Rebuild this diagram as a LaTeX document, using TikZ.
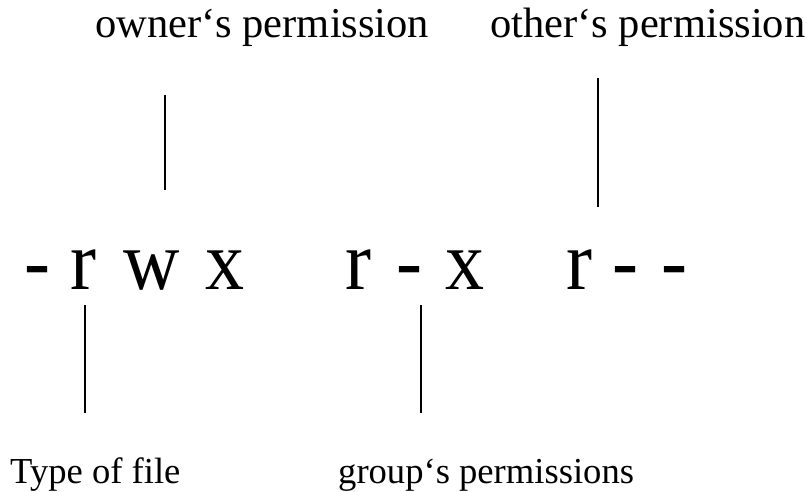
\documentclass[tikz,border=0pt]{standalone}
\usepackage{fontspec}
\setmainfont{Liberation Serif}
\newfontfamily\permfont{Liberation Serif}
\tikzset{
  toplbl/.style={anchor=base west, inner sep=0pt, font=\fontsize{42.5}{50}\selectfont},
  botlbl/.style={anchor=base west, inner sep=0pt, font=\fontsize{36.6}{44}\selectfont},
  perm/.style={anchor=base, inner sep=0pt, yscale=1.08, transform shape, font=\permfont\fontsize{78}{90}\selectfont},
  tick/.style={line width=1.6pt, black}
}
\begin{document}
\begin{tikzpicture}[x=1pt,y=-1pt]
\useasboundingbox (0,0) rectangle (807,492);
% top labels
\node[toplbl] (own) at (95,38) {owner‘s permission};
\node[toplbl] (oth) at (490,38) {other‘s permission};
% bottom labels
\node[botlbl] (typ) at (10,483) {Type of file};
\node[botlbl] (grp) at (338,483) {group‘s permissions};
% permission string
\node[perm] (c0) at (37,290) {-};
\node[perm] (c1) at (83,290) {r};
\node[perm] (c2) at (152,290) {w};
\node[perm] (c3) at (225,290) {x};
\node[perm] (c4) at (358,290) {r};
\node[perm] (c5) at (409,290) {-};
\node[perm] (c6) at (465,290) {x};
\node[perm] (c7) at (579,290) {r};
\node[perm] (c8) at (625,290) {-};
\node[perm] (c9) at (674,290) {-};
% ticks
\coordinate (a1) at (165,95);  \coordinate (a2) at (165,190);
\coordinate (b1) at (598,78);  \coordinate (b2) at (598,207);
\coordinate (d1) at (85,305);  \coordinate (d2) at (85,413);
\coordinate (e1) at (421,305); \coordinate (e2) at (421,413);
\draw[tick] (a1) -- (a2);
\draw[tick] (b1) -- (b2);
\draw[tick] (d1) -- (d2);
\draw[tick] (e1) -- (e2);
\end{tikzpicture}
\end{document}
